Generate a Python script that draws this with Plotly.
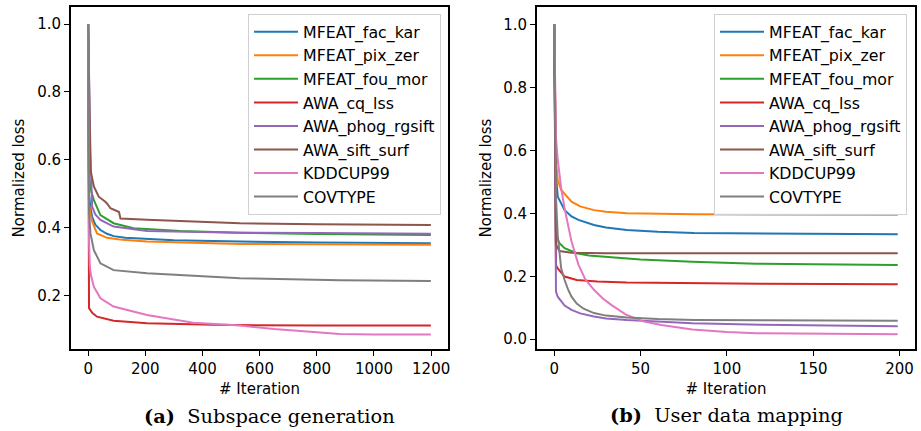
import plotly.graph_objects as go

names = ["MFEAT_fac_kar", "MFEAT_pix_zer", "MFEAT_fou_mor", "AWA_cq_lss",
         "AWA_phog_rgsift", "AWA_sift_surf", "KDDCUP99", "COVTYPE"]
colors = ["#1f77b4", "#ff7f0e", "#2ca02c", "#d62728",
          "#9467bd", "#8c564b", "#e377c2", "#7f7f7f"]

# (a) Subspace generation
a_fac_kar_x = [0, 3, 8, 14, 25, 43, 66, 89, 130, 206, 300, 531, 800, 1199]
a_fac_kar_y = [1.0, 0.50, 0.46, 0.433, 0.41, 0.394, 0.383, 0.376, 0.371, 0.367, 0.364, 0.360, 0.357, 0.355]
a_pix_zer_x = [0, 3, 8, 14, 31, 66, 120, 206, 531, 1199]
a_pix_zer_y = [1.0, 0.47, 0.44, 0.419, 0.384, 0.371, 0.365, 0.360, 0.353, 0.351]
a_fou_mor_x = [0, 3, 10, 20, 43, 89, 159, 322, 531, 800, 1199]
a_fou_mor_y = [1.0, 0.55, 0.51, 0.482, 0.438, 0.414, 0.399, 0.391, 0.386, 0.382, 0.379]
a_cq_lss_x = [0, 3, 15, 31, 89, 206, 437, 531, 800, 1199]
a_cq_lss_y = [1.0, 0.164, 0.150, 0.139, 0.127, 0.120, 0.115, 0.114, 0.113, 0.113]
a_phog_x = [0, 8, 14, 25, 43, 89, 206, 531, 800, 1199]
a_phog_y = [1.0, 0.62, 0.463, 0.44, 0.424, 0.404, 0.391, 0.386, 0.385, 0.383]
a_sift_x = [0, 8, 20, 37, 60, 66, 78, 101, 108, 113, 206, 531, 800, 1199]
a_sift_y = [1.0, 0.571, 0.522, 0.492, 0.477, 0.472, 0.458, 0.450, 0.447, 0.428, 0.424, 0.414, 0.411, 0.409]
a_kdd_x = [0, 3, 6, 10, 20, 43, 89, 206, 368, 450, 531, 650, 764, 880, 1000, 1199]
a_kdd_y = [1.0, 0.36, 0.286, 0.26, 0.227, 0.193, 0.169, 0.144, 0.121, 0.117, 0.113, 0.103, 0.095, 0.088, 0.087, 0.087]
a_cov_x = [0, 3, 8, 20, 43, 89, 206, 531, 880, 1199]
a_cov_y = [1.0, 0.45, 0.384, 0.335, 0.296, 0.276, 0.267, 0.252, 0.246, 0.244]

# (b) User data mapping
b_fac_kar_x = [0, 1, 2, 4, 6, 10, 14, 23, 30, 42, 60, 81, 120, 199]
b_fac_kar_y = [1.0, 0.52, 0.453, 0.43, 0.41, 0.39, 0.379, 0.363, 0.355, 0.347, 0.341, 0.337, 0.335, 0.333]
b_pix_zer_x = [0, 1, 2, 4, 10, 15, 23, 30, 42, 60, 81, 120, 199]
b_pix_zer_y = [1.0, 0.56, 0.506, 0.474, 0.437, 0.422, 0.41, 0.405, 0.40, 0.398, 0.397, 0.396, 0.395]
b_fou_mor_x = [0, 1, 3, 6, 13, 20, 33, 50, 80, 117, 150, 199]
b_fou_mor_y = [1.0, 0.33, 0.305, 0.289, 0.273, 0.266, 0.26, 0.253, 0.246, 0.24, 0.238, 0.236]
b_cq_lss_x = [0, 1, 2, 6, 13, 25, 42, 80, 120, 199]
b_cq_lss_y = [1.0, 0.235, 0.225, 0.199, 0.188, 0.183, 0.18, 0.178, 0.176, 0.175]
b_phog_x = [0, 1, 2, 4, 6, 10, 15, 23, 30, 42, 60, 80, 120, 160, 199]
b_phog_y = [1.0, 0.151, 0.135, 0.119, 0.107, 0.093, 0.082, 0.072, 0.066, 0.061, 0.056, 0.051, 0.046, 0.043, 0.041]
b_sift_x = [0, 1, 3, 10, 30, 199]
b_sift_y = [1.0, 0.30, 0.28, 0.275, 0.273, 0.273]
b_kdd_x = [0, 1, 2, 4, 6, 10, 14, 18, 23, 28, 33, 42, 52, 62, 80, 100, 117, 150, 199]
b_kdd_y = [1.0, 0.64, 0.57, 0.48, 0.415, 0.31, 0.237, 0.19, 0.157, 0.13, 0.109, 0.077, 0.056, 0.045, 0.031, 0.023, 0.019, 0.017, 0.016]
b_cov_x = [0, 1, 2, 3, 4, 6, 8, 10, 13, 17, 23, 30, 42, 60, 81, 120, 199]
b_cov_y = [1.0, 0.45, 0.33, 0.265, 0.225, 0.188, 0.158, 0.135, 0.113, 0.097, 0.083, 0.075, 0.069, 0.064, 0.061, 0.06, 0.059]

a_series = [(a_fac_kar_x, a_fac_kar_y), (a_pix_zer_x, a_pix_zer_y), (a_fou_mor_x, a_fou_mor_y),
            (a_cq_lss_x, a_cq_lss_y), (a_phog_x, a_phog_y), (a_sift_x, a_sift_y),
            (a_kdd_x, a_kdd_y), (a_cov_x, a_cov_y)]
b_series = [(b_fac_kar_x, b_fac_kar_y), (b_pix_zer_x, b_pix_zer_y), (b_fou_mor_x, b_fou_mor_y),
            (b_cq_lss_x, b_cq_lss_y), (b_phog_x, b_phog_y), (b_sift_x, b_sift_y),
            (b_kdd_x, b_kdd_y), (b_cov_x, b_cov_y)]

a_yticks = [0.2, 0.4, 0.6, 0.8, 1.0]
b_yticks = [0.0, 0.2, 0.4, 0.6, 0.8, 1.0]
a_xticks = [0, 200, 400, 600, 800, 1000, 1200]
b_xticks = [0, 50, 100, 150, 200]

FONT = "DejaVu Sans"
fig = go.Figure()
for i, (xs, ys) in enumerate(a_series):
    fig.add_trace(go.Scatter(x=xs, y=ys, mode="lines", name=names[i],
                             line=dict(color=colors[i], width=2),
                             xaxis="x", yaxis="y", legend="legend"))
for i, (xs, ys) in enumerate(b_series):
    fig.add_trace(go.Scatter(x=xs, y=ys, mode="lines", name=names[i],
                             line=dict(color=colors[i], width=2),
                             xaxis="x2", yaxis="y2", legend="legend2"))

W, H = 921, 431
ML, MR, MT, MB = 71, 6, 7, 82
PW, PH = W - ML - MR, H - MT - MB
def fx(px): return (px - ML) / PW
def fy(py): return (H - MB - py) / PH

axis_common = dict(showline=True, mirror=True, linecolor="black", linewidth=1.8,
                   ticks="outside", ticklen=5, tickwidth=1.3, tickcolor="black",
                   showgrid=False, zeroline=False, automargin=False,
                   tickfont=dict(family=FONT, size=15, color="black"))

legend_common = dict(font=dict(family=FONT, size=15.8, color="black"),
                     bgcolor="rgba(255,255,255,0.85)", bordercolor="#d0d0d0",
                     borderwidth=1, xanchor="right", yanchor="top", itemwidth=44)

title_font = dict(family=FONT, size=15, color="black")
cap_font = dict(family="DejaVu Serif", size=19.4, color="black")
fig.update_layout(
    width=W, height=H, margin=dict(l=ML, r=MR, t=MT, b=MB, autoexpand=False),
    paper_bgcolor="white", plot_bgcolor="white",
    xaxis=dict(domain=[fx(71), fx(448)], range=[-60, 1259], tickvals=a_xticks,
               anchor="y", title=dict(text="# Iteration", font=title_font, standoff=7),
               **axis_common),
    yaxis=dict(domain=[0, 1], range=[0.044, 1.05], tickvals=a_yticks,
               tickformat=".1f", anchor="x",
               title=dict(text="Normalized loss", font=title_font, standoff=9),
               **axis_common),
    xaxis2=dict(domain=[fx(537), fx(915)], range=[-10, 209], tickvals=b_xticks,
                anchor="y2", title=dict(text="# Iteration", font=title_font, standoff=7),
                **axis_common),
    yaxis2=dict(domain=[0, 1], range=[-0.031, 1.055], tickvals=b_yticks,
                tickformat=".1f", anchor="x2",
                title=dict(text="Normalized loss", font=title_font, standoff=8),
                **axis_common),
    legend=dict(x=fx(441), y=fy(14), **legend_common),
    legend2=dict(x=fx(907), y=fy(14), **legend_common),
    annotations=[
        dict(text="<b>(a)</b>&nbsp;&nbsp;Subspace generation", x=fx(269), y=fy(416), xref="paper", yref="paper",
             showarrow=False, xanchor="center", yanchor="middle", font=cap_font),
        dict(text="<b>(b)</b>&nbsp;&nbsp;User data mapping", x=fx(726), y=fy(415), xref="paper", yref="paper",
             showarrow=False, xanchor="center", yanchor="middle", font=cap_font),
    ],
)

fig.write_html("out.html", config={"displayModeBar": False},
               post_script="document.body.style.margin='0';document.body.style.overflow='hidden';")
